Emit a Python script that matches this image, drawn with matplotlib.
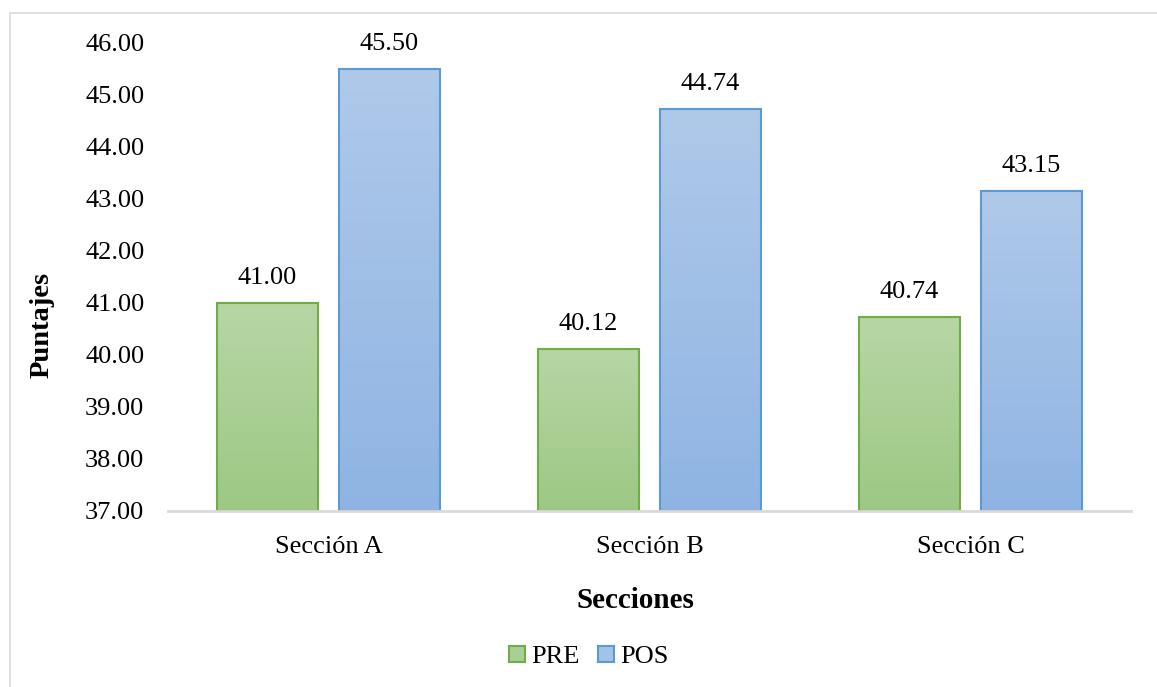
import numpy as np
import matplotlib
matplotlib.use("Agg")
import matplotlib.pyplot as plt
from matplotlib.colors import LinearSegmentedColormap
from matplotlib.patches import Rectangle, Patch

plt.rcParams["font.family"] = ["Liberation Serif", "DejaVu Serif"]

categories = ["Sección A", "Sección B", "Sección C"]
pre_values = [41.00, 40.12, 40.74]
pos_values = [45.50, 44.74, 43.15]
series_names = ["PRE", "POS"]
y_ticks = [37, 38, 39, 40, 41, 42, 43, 44, 45, 46]

W, H = 1157, 687
fig = plt.figure(figsize=(W / 100, H / 100), dpi=100)
ax = fig.add_axes([168 / W, 1 - 511 / H, (1131 - 168) / W, (511 - 43) / H])

# light gray outer frame
fig.patches.append(Rectangle((10 / W, -0.02), 1.02, 1 - 13 / H + 0.02,
                             transform=fig.transFigure, fill=False,
                             edgecolor="#d9d9d9", linewidth=1.2, zorder=0))

x = np.arange(len(categories))
bw = 0.315
off = 0.19

styles = [
    dict(top="#b7d6a5", bottom="#9dc884", edge="#70ad47"),
    dict(top="#afc9e9", bottom="#8fb4e3", edge="#5b9bd5"),
]

for vals, sign, st in zip([pre_values, pos_values], [-1, 1], styles):
    bars = ax.bar(x + sign * off, np.array(vals) - 37, bw, bottom=37,
                  facecolor="none", edgecolor=st["edge"], linewidth=1.5, zorder=3)
    cmap = LinearSegmentedColormap.from_list("g", [st["bottom"], st["top"]])
    grad = np.linspace(0, 1, 256).reshape(-1, 1)
    for b, v in zip(bars, vals):
        x0 = b.get_x()
        im = ax.imshow(grad, cmap=cmap, origin="lower", aspect="auto",
                       extent=[x0, x0 + b.get_width(), 37, v], zorder=2)
        im.set_clip_path(b)
        ax.annotate(f"{v:.2f}", (b.get_x() + b.get_width() / 2, v),
                    xytext=(0, 18), textcoords="offset points",
                    ha="center", va="center", fontsize=19, color="#000000")

ax.set_xlim(-0.5, 2.5)
ax.set_ylim(37, 46)
ax.set_yticks(y_ticks)
ax.set_yticklabels([f"{t:.2f}" for t in y_ticks])
ax.set_xticks(x)
ax.set_xticklabels(categories)
ax.tick_params(axis="both", length=0, labelsize=19, colors="#000000")
ax.tick_params(axis="y", pad=17)
ax.tick_params(axis="x", pad=18)
for s in ["top", "right", "left"]:
    ax.spines[s].set_visible(False)
ax.spines["bottom"].set_color("#d9d9d9")
ax.spines["bottom"].set_linewidth(2)
ax.spines["bottom"].set_zorder(4)

fig.text(635 / W, 1 - 600 / H, "Secciones", ha="center", va="center",
         fontsize=21, fontweight="bold")
fig.text(42 / W, 1 - 325 / H, "Puntajes", ha="center", va="center",
         rotation=90, fontsize=20.5, fontweight="bold")

handles = [Patch(facecolor="#a9cf95", edgecolor=styles[0]["edge"], linewidth=1.5),
           Patch(facecolor="#a3c2e8", edgecolor=styles[1]["edge"], linewidth=1.5)]
fig.legend(handles, series_names, loc="center", bbox_to_anchor=(589 / W, 1 - 657 / H),
           ncol=2, frameon=False, fontsize=19, handlelength=0.58, handleheight=0.58,
           handletextpad=0.25, columnspacing=0.7, borderpad=0)

fig.savefig("out.png", dpi=100)
